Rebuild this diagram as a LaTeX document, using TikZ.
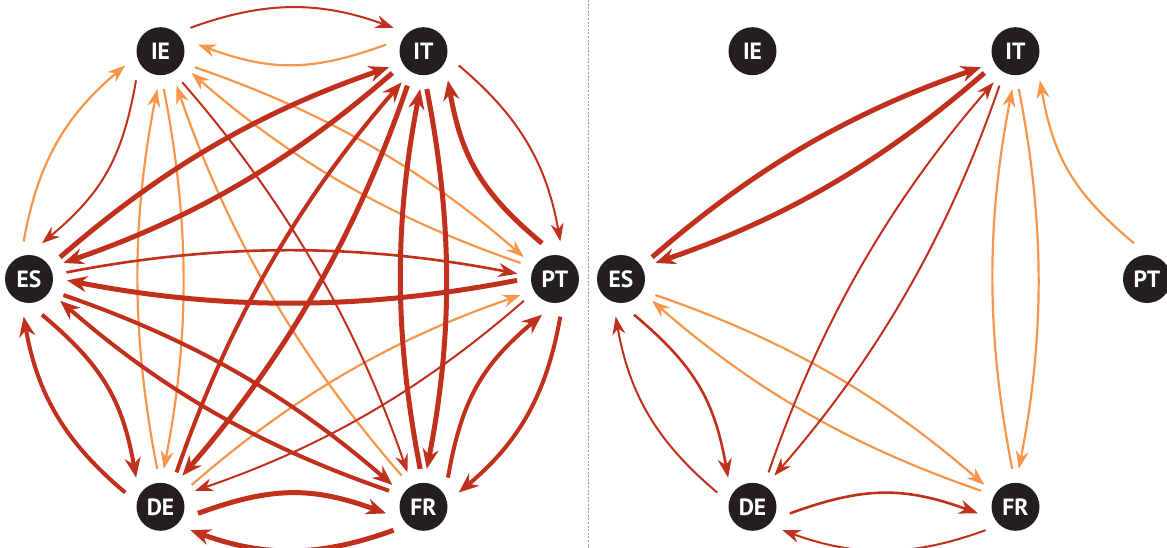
\documentclass[tikz,border=0pt]{standalone}
\usepackage{fontspec}
\newfontfamily\nodefont{PT Sans}
\usetikzlibrary{calc,arrows.meta}
\definecolor{linkred}{HTML}{C1301C}
\definecolor{linkorange}{HTML}{F7964B}
\definecolor{nodefill}{HTML}{231F20}
\definecolor{rulegray}{HTML}{9A9A9A}

% distance from a node centre at which a connector starts or ends
\newcommand\gapr{38}
% \flowarc[style]{from}{to}{start offset}{end offset}{bend}
% offsets and bend are angles, positive = left of the travel direction
\newcommand\flowarc[6][]{%
  \draw[#1] let \p1=(#2.center), \p2=(#3.center),
      \n1={atan2(\y2-\y1,\x2-\x1)},
      \n2={0.3*veclen(\x2-\x1,\y2-\y1)},
      \n3={\n1+#4},
      \n4={\n1+180-#5},
      \n5={\n1+#6},
      \n6={\n1+180-#6}
    in ($(\p1)+(\n3:\gapr)$)
      .. controls ($(\p1)+(\n3:\gapr)+(\n5:\n2)$)
              and ($(\p2)+(\n4:\gapr)+(\n6:\n2)$)
      .. ($(\p2)+(\n4:\gapr)$);}

\tikzset{
  country/.style={circle, fill=nodefill, minimum size=48pt, inner sep=0pt,
    text=white, font=\nodefont\bfseries\fontsize{23.5}{24}\selectfont},
  smalltip/.style={-{Stealth[length=18pt,width=13pt,inset=6pt]}},
  bigtip/.style={-{Stealth[length=20pt,width=16pt,inset=6.5pt]}},
  thinO/.style={draw=linkorange, line width=2.2pt, smalltip},
  thinR/.style={draw=linkred, line width=2pt, smalltip},
  midR/.style={draw=linkred, line width=2.6pt, -{Stealth[length=19pt,width=14pt,inset=6pt]}},
  medR/.style={draw=linkred, line width=4pt, bigtip},
  thickR/.style={draw=linkred, line width=5pt, bigtip},
  divider/.style={draw=rulegray, line width=0.9pt, dash pattern=on 2pt off 1.6pt}
}

\begin{document}
\begin{tikzpicture}[x=1pt,y=1pt]
\useasboundingbox (0,0) rectangle (1167,-548);

% separator between the two networks
\coordinate (sepTop) at (588,0);
\coordinate (sepBot) at (588,-548);
\draw[divider] (sepTop) -- (sepBot);

% left network
\node[country] (lIE) at (160.5,-51.2) {IE};
\node[country] (lIT) at (423.5,-51.2) {IT};
\node[country] (lPT) at (555,-279) {PT};
\node[country] (lFR) at (423.5,-506.8) {FR};
\node[country] (lDE) at (160.5,-506.8) {DE};
\node[country] (lES) at (29,-279) {ES};

% right network
\node[country] (rIE) at (752.5,-51.2) {IE};
\node[country] (rIT) at (1015.5,-51.2) {IT};
\node[country] (rPT) at (1147,-279) {PT};
\node[country] (rFR) at (1015.5,-506.8) {FR};
\node[country] (rDE) at (752.5,-506.8) {DE};
\node[country] (rES) at (621,-279) {ES};

% left: light flows
\flowarc[thinO]{lIT}{lIE}{-10}{-10}{20}
\flowarc[thinO]{lES}{lIE}{38}{38}{20}
\flowarc[thinO]{lIE}{lPT}{5}{5}{11}
\flowarc[thinO]{lPT}{lIE}{5}{5}{11}
\flowarc[thinO]{lIE}{lDE}{5}{5}{11}
\flowarc[thinO]{lDE}{lIE}{5}{5}{11}
\flowarc[thinO]{lFR}{lIE}{5}{5}{11}
\flowarc[thinO]{lDE}{lPT}{5}{5}{11}
% left: thin dark flows
\flowarc[thinR]{lIE}{lIT}{38}{38}{20}
\flowarc[thinR]{lIE}{lES}{-10}{-10}{20}
\flowarc[thinR]{lIT}{lPT}{38}{38}{20}
\flowarc[thinR]{lIE}{lFR}{5}{5}{11}
\flowarc[thinR]{lPT}{lDE}{5}{5}{11}
\flowarc[midR]{lES}{lPT}{10}{8}{11}
% left: heavy flows
\flowarc[medR]{lPT}{lFR}{38}{38}{20}
\flowarc[medR]{lFR}{lPT}{-10}{-10}{20}
\flowarc[medR]{lDE}{lES}{38}{38}{20}
\flowarc[medR]{lES}{lDE}{-10}{-10}{20}
\flowarc[medR]{lES}{lFR}{5}{5}{11}
\flowarc[medR]{lFR}{lES}{5}{5}{11}
\flowarc[medR]{lDE}{lIT}{5}{5}{11}
\flowarc[thickR]{lPT}{lIT}{-10}{-10}{20}
\flowarc[thickR]{lFR}{lDE}{38}{38}{20}
\flowarc[thickR]{lDE}{lFR}{-10}{-10}{20}
\flowarc[thickR]{lIT}{lFR}{5}{5}{11}
\flowarc[thickR]{lFR}{lIT}{5}{5}{11}
\flowarc[thickR]{lIT}{lDE}{5}{5}{11}
\flowarc[thickR]{lES}{lIT}{5}{5}{11}
\flowarc[thickR]{lIT}{lES}{5}{5}{11}
\flowarc[thickR]{lPT}{lES}{2}{2}{11}

% right: light flows
\flowarc[thinO]{rPT}{rIT}{-10}{-10}{20}
\flowarc[thinO]{rIT}{rFR}{5}{5}{11}
\flowarc[thinO]{rFR}{rIT}{5}{5}{11}
\flowarc[thinO]{rES}{rFR}{5}{5}{11}
\flowarc[thinO]{rFR}{rES}{5}{5}{11}
% right: dark flows
\flowarc[thinR]{rDE}{rIT}{5}{5}{11}
\flowarc[thinR]{rIT}{rDE}{5}{5}{11}
\flowarc[thinR]{rDE}{rES}{38}{38}{20}
\flowarc[midR]{rES}{rDE}{-10}{-10}{20}
\flowarc[midR]{rDE}{rFR}{-10}{-10}{20}
\flowarc[thinR]{rFR}{rDE}{38}{38}{20}
\flowarc[thickR]{rES}{rIT}{5}{5}{11}
\flowarc[thickR]{rIT}{rES}{5}{5}{11}
\end{tikzpicture}
\end{document}
